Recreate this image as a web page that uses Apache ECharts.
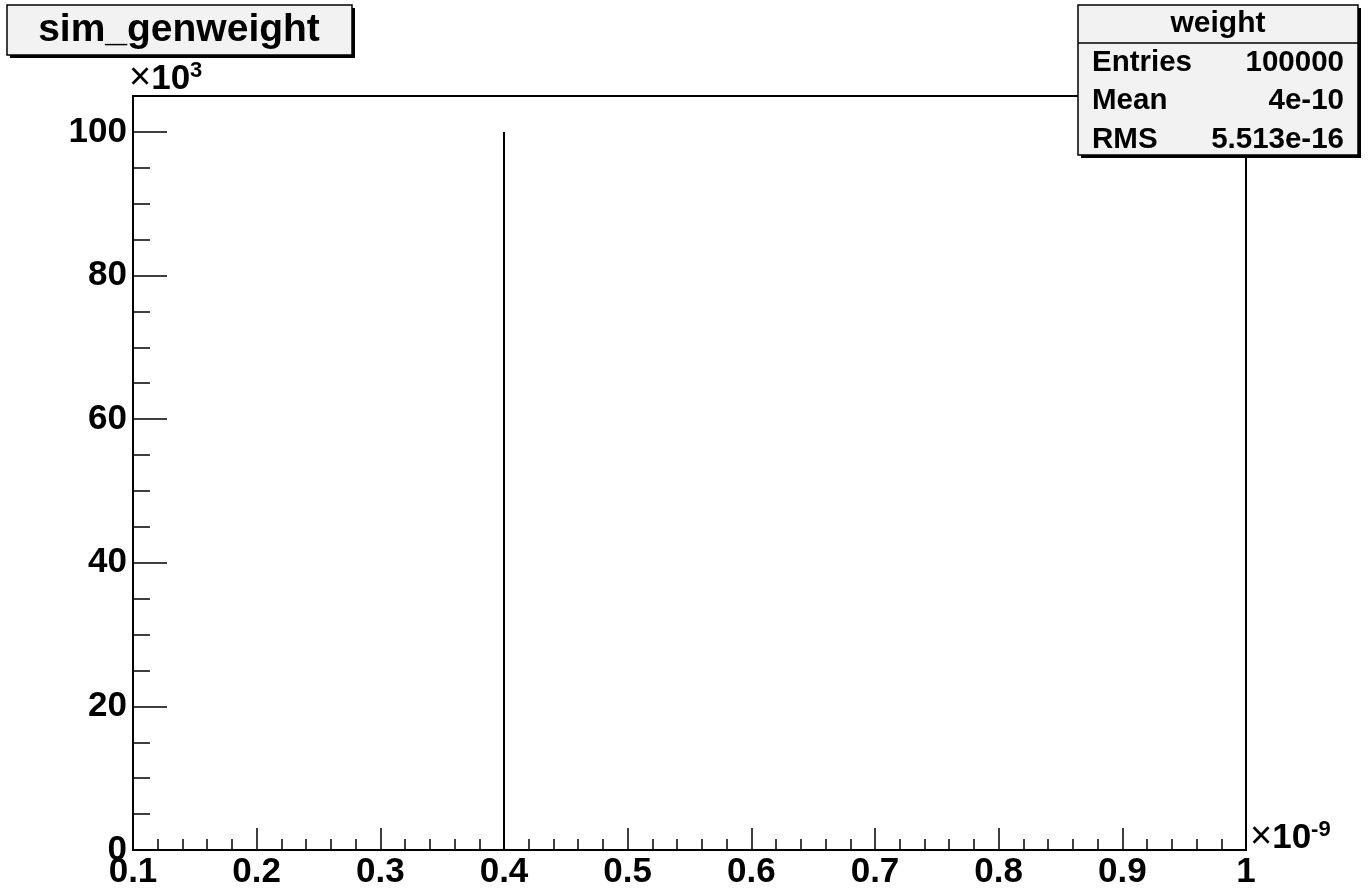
<!DOCTYPE html>
<html>
<head>
<meta charset="utf-8">
<script src="https://cdn.jsdelivr.net/npm/echarts@6/dist/echarts.min.js"></script>
<style>html,body{margin:0;padding:0;background:#fff}#c{width:1368px;height:894px}</style>
</head>
<body>
<div id="c"></div>
<script>
// ---- data ----
const histTitle = 'sim_genweight';
const statsTitle = 'weight';
const statsNames = ['Entries', 'Mean', 'RMS'];
const statsValues = ['100000', '4e-10', '5.513e-16'];
const binCenters = [0.4];          // x in units of 1e-9
const binCounts = [100000];
const xMin = 0.1, xMax = 1.0, xStep = 0.1;
const yMin = 0, yMax = 105000, yStep = 20000;
const yMinorTicks = [5000, 10000, 15000, 25000, 30000, 35000, 45000, 50000, 55000,
  65000, 70000, 75000, 85000, 90000, 95000];

// histogram outline built from the bins
const outline = [[xMin, 0]];
binCenters.forEach((c, i) => { outline.push([c, 0], [c, binCounts[i]], [c, 0]); });
outline.push([xMax, 0]);

const FONT = 'Liberation Sans';
const chart = echarts.init(document.getElementById('c'), null, { renderer: 'canvas' });

function box(x, y, w, h, z) {
  return [
    { type: 'rect', z: z, shape: { x: x + 3, y: y + 3, width: w, height: h }, style: { fill: '#000' } },
    { type: 'rect', z: z + 1, shape: { x: x, y: y, width: w, height: h }, style: { fill: '#f2f2f2', stroke: '#000', lineWidth: 1.5 } }
  ];
}

const graphics = [];
graphics.push(...box(7, 5, 345, 50, 10));
graphics.push({ type: 'text', z: 20, x: 179, y: 30, style: { text: histTitle, font: 'bold 39px ' + FONT, fill: '#000', align: 'center', verticalAlign: 'middle' } });
graphics.push(...box(1078, 5, 280, 150, 10));
graphics.push({ type: 'line', z: 20, shape: { x1: 1078, y1: 43, x2: 1358, y2: 43 }, style: { stroke: '#000', lineWidth: 1.5 } });
graphics.push({ type: 'text', z: 20, x: 1218, y: 24, style: { text: statsTitle, font: 'bold 30px ' + FONT, fill: '#000', align: 'center', verticalAlign: 'middle' } });
const rowY = [63, 101, 140];
statsNames.forEach((n, i) => {
  graphics.push({ type: 'text', z: 20, x: 1092, y: rowY[i], style: { text: n, font: 'bold 29.5px ' + FONT, fill: '#000', align: 'left', verticalAlign: 'middle' } });
  graphics.push({ type: 'text', z: 20, x: 1344, y: rowY[i], style: { text: statsValues[i], font: 'bold 29.5px ' + FONT, fill: '#000', align: 'right', verticalAlign: 'middle' } });
});
// exponent labels
const richExp = {
  m: { font: '38px ' + FONT, fill: '#000' },
  b: { font: 'bold 35px ' + FONT, fill: '#000' },
  s: { font: 'bold 22px ' + FONT, fill: '#000', padding: [0, 0, 16, 0] }
};
graphics.push({ type: 'text', z: 20, x: 129, y: 79, style: { text: '{m|×}{b|10}{s|3}', verticalAlign: 'middle', align: 'left', rich: richExp } });
graphics.push({ type: 'text', z: 20, x: 1250, y: 838, style: { text: '{m|×}{b|10}{s|-9}', verticalAlign: 'middle', align: 'left', rich: richExp } });

const option = {
  backgroundColor: '#fff',
  animation: false,
  grid: { left: 133, right: 122, top: 96, bottom: 44, show: true, borderColor: '#000', borderWidth: 2, backgroundColor: 'transparent' },
  xAxis: {
    type: 'value', min: xMin, max: xMax, interval: xStep,
    axisLine: { show: true, lineStyle: { color: '#000', width: 2 } },
    axisTick: { show: true, inside: true, length: 22, lineStyle: { color: '#000', width: 1.5 } },
    minorTick: { show: true, splitNumber: 5, length: 11, lineStyle: { color: '#000', width: 1.5 } },
    splitLine: { show: false },
    axisLabel: { color: '#000', fontFamily: FONT, fontWeight: 'bold', fontSize: 35, margin: 5,
      formatter: v => String(Math.round(v * 10) / 10) }
  },
  yAxis: [{
    type: 'value', min: yMin, max: yMax, interval: yStep,
    axisLine: { show: true, lineStyle: { color: '#000', width: 2 } },
    axisTick: { show: true, inside: true, length: 34, lineStyle: { color: '#000', width: 1.5 } },
    splitLine: { show: false },
    axisLabel: { color: '#000', fontFamily: FONT, fontWeight: 'bold', fontSize: 35, margin: 6, showMaxLabel: false,
      formatter: v => (v > 100000 ? '' : String(Math.round(v / 1000))) }
  }, {
    type: 'value', min: yMin, max: yMax, position: 'left', offset: 0,
    axisLine: { show: false },
    axisTick: { show: true, inside: true, length: 17, customValues: yMinorTicks, lineStyle: { color: '#000', width: 1.5 } },
    splitLine: { show: false },
    axisLabel: { show: false }
  }],
  series: [{
    type: 'line', data: outline, yAxisIndex: 0, symbol: 'none', z: 5,
    lineStyle: { color: '#000', width: 2 }
  }],
  graphic: graphics
};
chart.setOption(option);
</script>
</body>
</html>
